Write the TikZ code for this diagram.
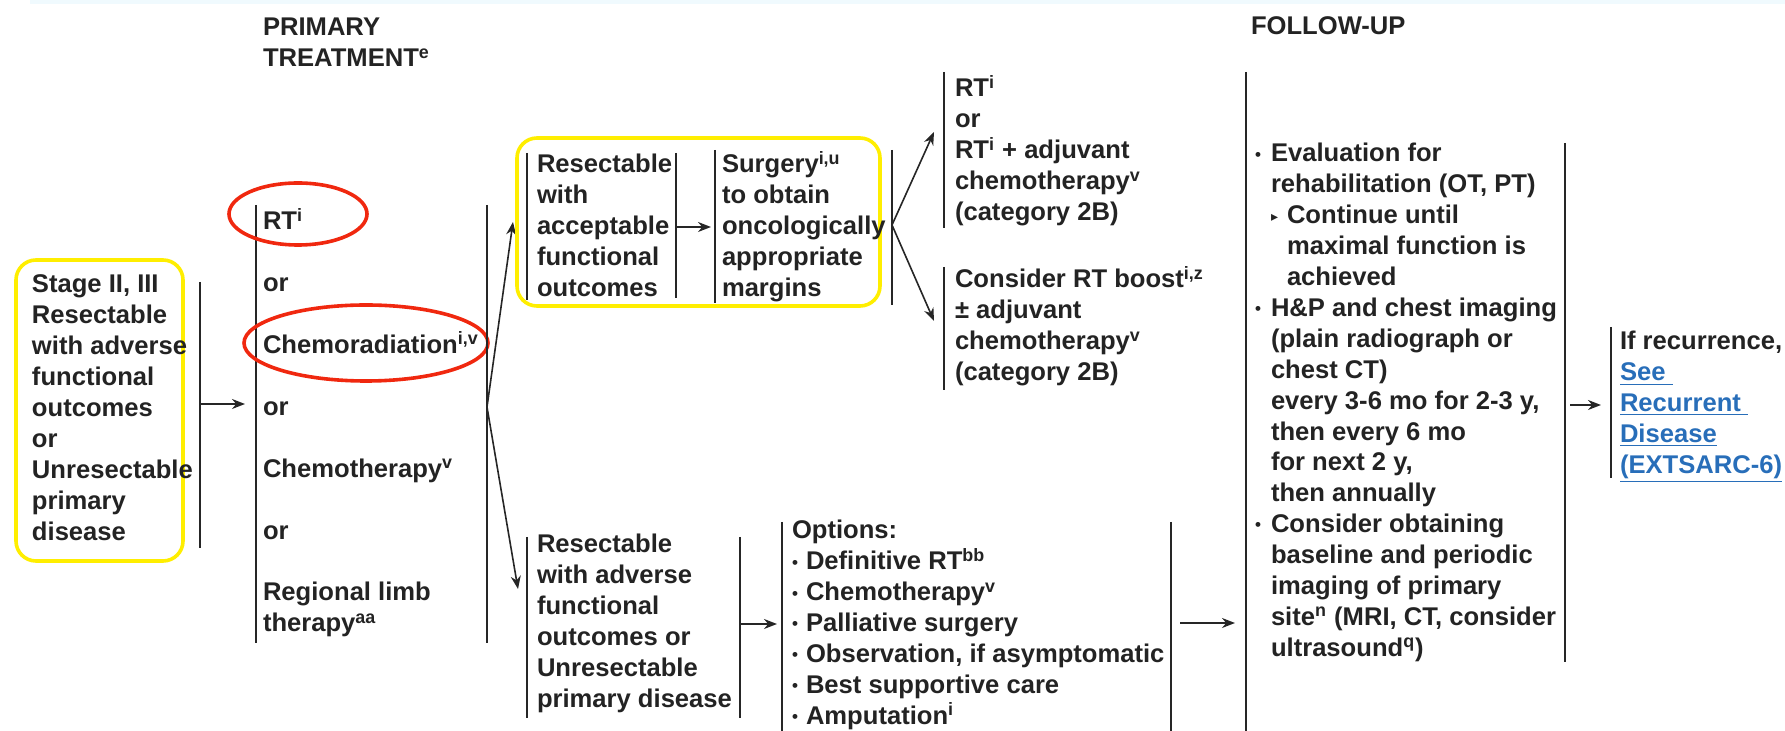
\documentclass[tikz,border=0pt]{standalone}
\usepackage{fontspec}
\setmainfont{Liberation Sans}
\newfontfamily\symf{DejaVu Sans}
\usetikzlibrary{arrows.meta}
\definecolor{hlyellow}{RGB}{255,238,0}
\definecolor{hlred}{RGB}{240,40,15}
\definecolor{linkblue}{RGB}{40,110,185}
\definecolor{txt}{RGB}{35,35,35}
\newcommand{\blk}[1]{\begin{tabular}[t]{@{}l@{}}#1\end{tabular}}
\newcommand{\obul}{\makebox[7pt][l]{\raisebox{0.9pt}{\fontsize{8.5}{8.5}\selectfont •}}}
\newcommand{\oind}{\hspace*{7pt}}
\newcommand{\fbul}{\makebox[8pt][l]{\raisebox{0.9pt}{\fontsize{8.5}{8.5}\selectfont •}}}
\newcommand{\find}{\hspace*{8pt}}
\newcommand{\ftri}{\makebox[8pt][l]{\raisebox{1pt}{\symf\fontsize{7}{7}\selectfont ▸}}}
\newcommand{\sps}[1]{\textsuperscript{#1}}
\begin{document}
\begin{tikzpicture}[x=0.5pt,y=-0.5pt,
  txtn/.style={anchor=base west, inner sep=0pt, outer sep=0pt,
    font=\fontsize{12.8}{15.45}\selectfont\bfseries, text=txt},
  bar/.style={line width=1.1pt, black!85},
  arr/.style={line width=0.8pt, black!85, -{Stealth[length=6.5pt,width=5pt]}},
  ybox/.style={draw=hlyellow, line width=1.8pt, rounded corners=10pt},
  rring/.style={draw=hlred, line width=1.8pt}]
\useasboundingbox (0,0) rectangle (1785,731);
\fill[cyan!6] (30,0) rectangle (1785,4);

% headings
\node[txtn] (hprim) at (263,36) {\blk{PRIMARY\\TREATMENT\sps{e}}};
\node[txtn] (hfol) at (1251,35) {FOLLOW-UP};

% left box
\draw[ybox] (16,260) rectangle (183,561);
\node[txtn] (stage) at (32,293) {\blk{Stage II, III\\Resectable\\with adverse\\functional\\outcomes\\or\\Unresectable\\primary\\disease}};
\draw[bar] (200,282) -- (200,548);
\coordinate (a1s) at (200,404);
\coordinate (a1e) at (245,404);
\draw[arr] (a1s) -- (a1e);

% primary treatment
\draw[bar] (256,205) -- (256,643);
\node[txtn] (prim) at (263,230) {\blk{RT\sps{i}\\ \\or\\ \\Chemoradiation\sps{i,v}\\ \\or\\ \\Chemotherapy\sps{v}\\ \\or\\ \\Regional limb\\therapy\sps{aa}}};
\draw[rring] (298,214) ellipse [x radius=34.5pt, y radius=15.5pt];
\draw[rring] (366,343) ellipse [x radius=61pt, y radius=19pt];
\draw[bar] (487,205) -- (487,643);
\coordinate (f1) at (487,407);
\coordinate (f1u) at (513,222);
\coordinate (f1d) at (518,589);
\draw[arr] (f1) -- (f1u);
\draw[arr] (f1) -- (f1d);

% top branch
\draw[ybox] (517,138) rectangle (880,306);
\draw[bar] (527,153) -- (527,300);
\node[txtn] (resacc) at (537,173) {\blk{Resectable\\with\\acceptable\\functional\\outcomes}};
\draw[bar] (676,153) -- (676,298);
\coordinate (a2s) at (676,227);
\coordinate (a2e) at (711,227);
\draw[arr] (a2s) -- (a2e);
\draw[bar] (715,150) -- (715,303);
\node[txtn] (surg) at (722,173) {\blk{Surgery\sps{i,u}\\to obtain\\oncologically\\appropriate\\margins}};
\draw[bar] (892,150) -- (892,305);
\coordinate (f2) at (892,225);
\coordinate (f2u) at (934,132);
\coordinate (f2d) at (934,321);
\draw[arr] (f2) -- (f2u);
\draw[arr] (f2) -- (f2d);

\draw[bar] (944,72) -- (944,228);
\node[txtn] (rt1) at (955,97) {\blk{RT\sps{i}\\or\\RT\sps{i} + adjuvant\\chemotherapy\sps{v}\\(category 2B)}};
\draw[bar] (944,267) -- (944,390);
\node[txtn] (rt2) at (955,288) {\blk{Consider RT boost\sps{i,z}\\± adjuvant\\chemotherapy\sps{v}\\(category 2B)}};

% bottom branch
\draw[bar] (527,537) -- (527,718);
\node[txtn] (resadv) at (537,553) {\blk{Resectable\\with adverse\\functional\\outcomes or\\Unresectable\\primary disease}};
\draw[bar] (740,537) -- (740,718);
\coordinate (a3s) at (740,624);
\coordinate (a3e) at (777,624);
\draw[arr] (a3s) -- (a3e);
\draw[bar] (782,522) -- (782,731);
\node[txtn] (opts) at (792,539) {\blk{Options:\\\obul Definitive RT\sps{bb}\\\obul Chemotherapy\sps{v}\\\obul Palliative surgery\\\obul Observation, if asymptomatic\\\obul Best supportive care\\\obul Amputation\sps{i}}};
\draw[bar] (1171,522) -- (1171,731);
\coordinate (a4s) at (1180,623);
\coordinate (a4e) at (1235,623);
\draw[arr] (a4s) -- (a4e);

% follow-up
\draw[bar] (1246,72) -- (1246,731);
\node[txtn] (fol) at (1255,162) {\blk{\fbul Evaluation for\\
\find rehabilitation (OT, PT)\\
\find\ftri Continue until\\
\find\find maximal function is\\
\find\find achieved\\
\fbul H\&P and chest imaging\\
\find (plain radiograph or\\
\find chest CT)\\
\find every 3-6 mo for 2-3 y,\\
\find then every 6 mo\\
\find for next 2 y,\\
\find then annually\\
\fbul Consider obtaining\\
\find baseline and periodic\\
\find imaging of primary\\
\find site\sps{n} (MRI, CT, consider\\
\find ultrasound\sps{q})}};
\draw[bar] (1565,143) -- (1565,662);
\coordinate (a5s) at (1570,405);
\coordinate (a5e) at (1601,405);
\draw[arr] (a5s) -- (a5e);
\draw[bar] (1611,327) -- (1611,478);
\node[txtn] (recur) at (1620,350) {\blk{If recurrence,\\
\textcolor{linkblue}{\underline{See\ }}\\
\textcolor{linkblue}{\underline{Recurrent\ }}\\
\textcolor{linkblue}{\underline{Disease}}\\
\textcolor{linkblue}{\underline{(EXTSARC-6)}}}};
\end{tikzpicture}
\end{document}
